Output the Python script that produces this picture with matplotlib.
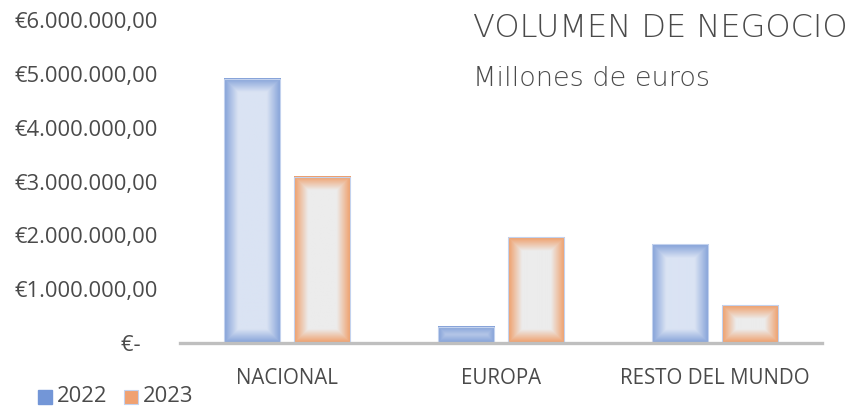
import numpy as np
import matplotlib
matplotlib.use("Agg")
from matplotlib import pyplot as plt
from matplotlib.patches import Rectangle

categories = ["NACIONAL", "EUROPA", "RESTO DEL MUNDO"]
years = ["2022", "2023"]
values_2022 = [4910000, 300000, 1830000]
values_2023 = [3090000, 1960000, 700000]
y_ticks = [0, 1000000, 2000000, 3000000, 4000000, 5000000, 6000000]
y_tick_labels = ["€-   ", "€1.000.000,00", "€2.000.000,00", "€3.000.000,00",
                 "€4.000.000,00", "€5.000.000,00", "€6.000.000,00"]

text_col = "#4a4a4a"
font = "Open Sans"

# edge colour, centre colour of the gradient fill
blue = (np.array([0x82, 0xa0, 0xd8]) / 255, np.array([0xda, 0xe3, 0xf3]) / 255)
orange = (np.array([0xef, 0x9c, 0x66]) / 255, np.array([0xec, 0xec, 0xec]) / 255)


def fill_gradient(ax, bar, cols, band=14.0):
    # paint a soft edge-to-centre gradient inside one bar
    edge, mid = cols
    x0, y0 = bar.get_x(), bar.get_y()
    w, h = bar.get_width(), bar.get_height()
    p0 = ax.transData.transform((x0, y0))
    p1 = ax.transData.transform((x0 + w, y0 + h))
    wpx = max(int(round(abs(p1[0] - p0[0]))), 2)
    hpx = max(int(round(abs(p1[1] - p0[1]))), 2)
    xx = np.arange(wpx) + 0.5
    yy = np.arange(hpx) + 0.5
    dx = np.minimum(xx, wpx - xx)
    dy = np.minimum(yy, hpx - yy)
    d = np.minimum(dx[None, :], dy[:, None])
    t = np.clip(d / band, 0, 1)
    img = edge[None, None, :] * (1 - t[..., None]) + mid[None, None, :] * t[..., None]
    ax.imshow(img, extent=(x0, x0 + w, y0, y0 + h), aspect="auto",
              zorder=2, interpolation="bilinear")


fig = plt.figure(figsize=(8.63, 4.11), dpi=100)
ax = fig.add_axes([180 / 863, 68 / 411, 642 / 863, 323 / 411])

x = np.arange(len(categories))
bw = 0.262
gap = 0.061
bars1 = ax.bar(x - (bw + gap) / 2, values_2022, bw, color="none",
               edgecolor="#c3d2ee", linewidth=0.8, zorder=3)
bars2 = ax.bar(x + (bw + gap) / 2, values_2023, bw, color="none",
               edgecolor="#c3d2ee", linewidth=0.8, zorder=3)

ax.set_xlim(-0.5, len(categories) - 0.5)
ax.set_ylim(0, 6000000)

for b in bars1:
    fill_gradient(ax, b, blue)
for b in bars2:
    fill_gradient(ax, b, orange)

ax.set_xlim(-0.5, len(categories) - 0.5)
ax.set_ylim(0, 6000000)

for s in ["top", "right", "left"]:
    ax.spines[s].set_visible(False)
ax.spines["bottom"].set_color("#bfbfbf")
ax.spines["bottom"].set_linewidth(2.4)
ax.spines["bottom"].set_zorder(4)

ax.set_yticks(y_ticks)
ax.set_yticklabels(y_tick_labels, fontsize=15.8, color=text_col, family=font)
ax.set_xticks(x)
ax.set_xticklabels(categories, fontsize=14.8, color=text_col, family=font)
ax.tick_params(axis="y", length=0, pad=16)
ax.tick_params(axis="x", length=0, pad=18)

fig.text(473 / 863, 1 - 37 / 411, "VOLUMEN DE NEGOCIO", fontsize=23, color=text_col,
         family="DejaVu Sans", fontweight="light", va="baseline")
fig.text(473 / 863, 1 - 86 / 411, "Millones de euros", fontsize=19.5, color=text_col,
         family="DejaVu Sans", fontweight="light", va="baseline")

# legend
fig.patches.append(Rectangle((38 / 863, 1 - 404 / 411), 14 / 863, 14 / 411,
                             transform=fig.transFigure, color="#7396d7"))
fig.text(57 / 863, 1 - 396 / 411, years[0], fontsize=15.8, color=text_col,
         family=font, va="center")
fig.patches.append(Rectangle((124 / 863, 1 - 404 / 411), 14 / 863, 14 / 411,
                             transform=fig.transFigure, facecolor="#f0a171",
                             edgecolor="#c3d2ee", linewidth=0.8))
fig.text(143 / 863, 1 - 396 / 411, years[1], fontsize=15.8, color=text_col,
         family=font, va="center")

fig.savefig("out.png", dpi=100)
